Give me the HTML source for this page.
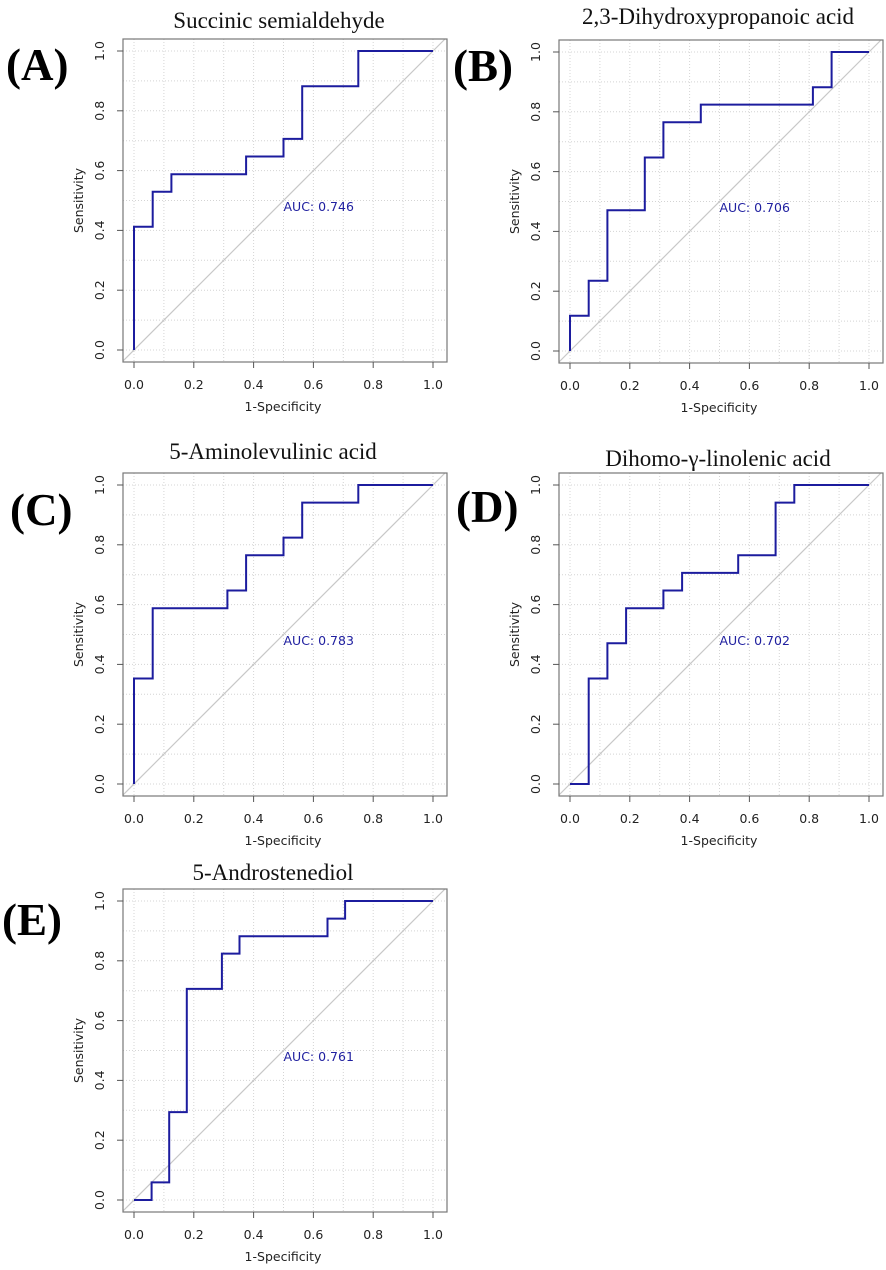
<!DOCTYPE html>
<html><head><meta charset="utf-8"><style>
body{margin:0;background:#fff;}
svg{display:block;}
.tick{font-family:"DejaVu Sans","Liberation Sans",sans-serif;font-size:12.5px;fill:#222;}
.title{font-family:"Liberation Serif",serif;font-size:23px;fill:#111;}
.lab{font-family:"Liberation Serif",serif;font-size:45px;font-weight:bold;fill:#000;}
.auc{font-family:"DejaVu Sans","Liberation Sans",sans-serif;font-size:12.5px;fill:#2020a0;}
</style></head><body>
<svg id="root" width="886" height="1270" viewBox="0 0 886 1270" xmlns="http://www.w3.org/2000/svg"></svg>
<script>
// Panel data (step-curve points: 1-specificity, sensitivity)
const titles = ["Succinic semialdehyde","2,3-Dihydroxypropanoic acid","5-Aminolevulinic acid","Dihomo-γ-linolenic acid","5-Androstenediol"];
const panelLabels = ["(A)","(B)","(C)","(D)","(E)"];
const aucLabels = ["AUC: 0.746","AUC: 0.706","AUC: 0.783","AUC: 0.702","AUC: 0.761"];
const fprA = [0,0,0.0625,0.0625,0.125,0.125,0.375,0.375,0.5,0.5,0.5625,0.5625,0.75,0.75,1];
const tprA = [0,0.412,0.412,0.529,0.529,0.588,0.588,0.647,0.647,0.706,0.706,0.882,0.882,1,1];
const fprB = [0,0,0.0625,0.0625,0.125,0.125,0.25,0.25,0.3125,0.3125,0.4375,0.4375,0.8125,0.8125,0.875,0.875,1];
const tprB = [0,0.118,0.118,0.235,0.235,0.471,0.471,0.647,0.647,0.765,0.765,0.824,0.824,0.882,0.882,1,1];
const fprC = [0,0,0.0625,0.0625,0.3125,0.3125,0.375,0.375,0.5,0.5,0.5625,0.5625,0.75,0.75,1];
const tprC = [0,0.353,0.353,0.588,0.588,0.647,0.647,0.765,0.765,0.824,0.824,0.941,0.941,1,1];
const fprD = [0,0.0625,0.0625,0.125,0.125,0.1875,0.1875,0.3125,0.3125,0.375,0.375,0.5625,0.5625,0.6875,0.6875,0.75,0.75,1];
const tprD = [0,0,0.353,0.353,0.471,0.471,0.588,0.588,0.647,0.647,0.706,0.706,0.765,0.765,0.941,0.941,1,1];
const fprE = [0,0.0588,0.0588,0.1176,0.1176,0.1765,0.1765,0.294,0.294,0.353,0.353,0.647,0.647,0.706,0.706,1];
const tprE = [0,0,0.059,0.059,0.294,0.294,0.706,0.706,0.824,0.824,0.882,0.882,0.941,0.941,1,1];
const tickValues = [0,0.2,0.4,0.6,0.8,1.0];
const tickLabels = ["0.0","0.2","0.4","0.6","0.8","1.0"];
const aucPos = [0.5,0.478];

const fprs=[fprA,fprB,fprC,fprD,fprE], tprs=[tprA,tprB,tprC,tprD,tprE];
// layout: [boxLeft, boxTop, labelX, labelY, titleCX, titleY]
const layout=[[123,39,6,80,279,28],[559,40,453,81,718,24],[123,473,10,525,273,459],[559,473,456,522,718,466],[123,889,2,935,273,880]];
const NS="http://www.w3.org/2000/svg";
const root=document.getElementById('root');
function mk(tag,attrs,parent){const e=document.createElementNS(NS,tag);for(const k in attrs)e.setAttribute(k,attrs[k]);(parent||root).appendChild(e);return e;}

for(let p=0;p<5;p++){
  const [bl,bt,lx,ly,tcx,ty]=layout[p];
  const W=322,H=323,x0=bl+11,x1=bl+310,y1=bt+12,y0=bt+311;
  const sx=v=>x0+v*(x1-x0), sy=v=>y0-v*(y0-y1);
  const g=mk('g',{});
  
  
  for(let i=0;i<=10;i++){
    const v=i/10;
    const gv=mk('line',{x1:sx(v),x2:sx(v),y1:bt,y2:bt+H,stroke:'#d4d4d4','stroke-width':1,'stroke-dasharray':'1,2'},g);
    
    
    const gh=mk('line',{x1:bl,x2:bl+W,y1:sy(v),y2:sy(v),stroke:'#d4d4d4','stroke-width':1,'stroke-dasharray':'1,2'},g);
    
    
  }
  const dg=mk('line',{x1:bl,y1:sy((bl-x0)/(x1-x0)),x2:bl+W,y2:sy((bl+W-x0)/(x1-x0)),stroke:'#c8c8c8','stroke-width':1.2},g);
  
  
  const bx=mk('rect',{x:bl,y:bt,width:W+2,height:H,fill:'none',stroke:'#777','stroke-width':1.2},g);
  
  
  tickValues.forEach((v,i)=>{
    mk('line',{x1:sx(v),x2:sx(v),y1:bt+H,y2:bt+H+6,stroke:'#555'},g);
    const tx=mk('text',{x:sx(v),y:bt+H+27,'text-anchor':'middle',class:'tick'},g);
    tx.textContent=tickLabels[i];
    
    
    mk('line',{x1:bl-6,x2:bl,y1:sy(v),y2:sy(v),stroke:'#555'},g);
    const ty2=mk('text',{x:0,y:0,'text-anchor':'middle',class:'tick',transform:`translate(${bl-19},${sy(v)}) rotate(-90)`},g);
    ty2.textContent=tickLabels[i];
    
    
  });
  const xl=mk('text',{x:(bl+W/2)-1,y:bt+H+49,'text-anchor':'middle',class:'tick'},g);
  xl.textContent='1-Specificity';
  
  
  const yl=mk('text',{x:0,y:0,'text-anchor':'middle',class:'tick',transform:`translate(${bl-40},${bt+H/2}) rotate(-90)`},g);
  yl.textContent='Sensitivity';
  
  
  const pts=fprs[p].map((f,i)=>sx(f).toFixed(1)+','+sy(tprs[p][i]).toFixed(1)).join(' ');
  const cv=mk('polyline',{points:pts,fill:'none',stroke:'#1c1c9e','stroke-width':2},g);
  
  
  const at=mk('text',{x:sx(aucPos[0]),y:sy(aucPos[1])+4,class:'auc'},g);
  at.textContent=aucLabels[p];
  
  
  const tt=mk('text',{x:tcx,y:ty,'text-anchor':'middle',class:'title'},g);
  tt.textContent=titles[p];
  
  
  const pl=mk('text',{x:lx,y:ly,class:'lab'},g);
  pl.textContent=panelLabels[p];
  
  
}
</script>
</body></html>
